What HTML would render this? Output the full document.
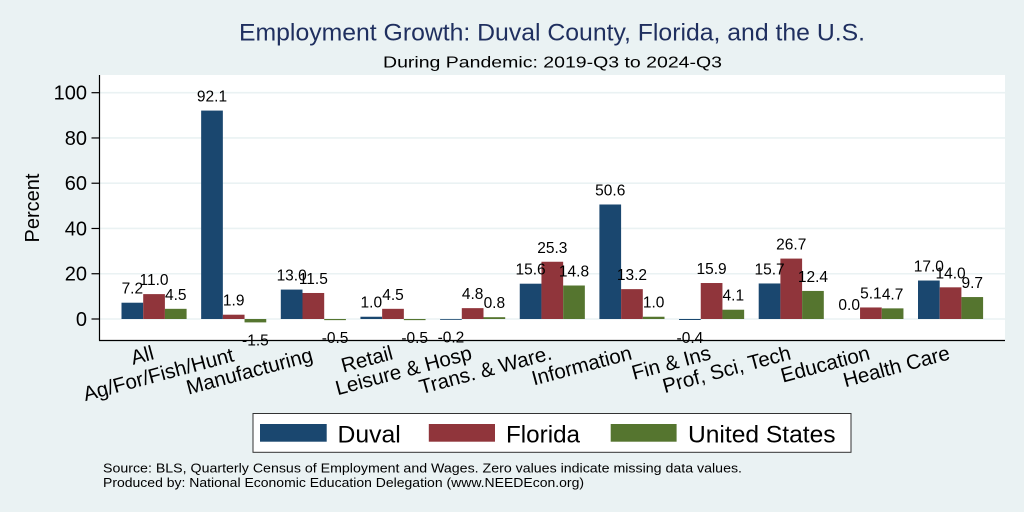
<!DOCTYPE html>
<html>
<head>
<meta charset="utf-8">
<style>
html,body{margin:0;padding:0;background:#eaf2f3;}
svg{display:block;font-family:"Liberation Sans",Arial,sans-serif;}
</style>
</head>
<body>
<svg width="1024" height="512" viewBox="0 0 1024 512" xmlns="http://www.w3.org/2000/svg">
<rect x="0" y="0" width="1024" height="512" fill="#eaf2f3"/>
<!-- titles -->
<text x="239" y="40.7" font-size="24" fill="#1f2f5f" textLength="626" lengthAdjust="spacingAndGlyphs">Employment Growth: Duval County, Florida, and the U.S.</text>
<text x="383" y="67.3" font-size="16" fill="#000" textLength="339" lengthAdjust="spacingAndGlyphs">During Pandemic: 2019-Q3 to 2024-Q3</text>
<!-- plot region -->
<rect x="99.5" y="75" width="905.5" height="265" fill="#ffffff"/>
<g stroke="#eaf2f3" stroke-width="1.6">
<line x1="100" y1="319" x2="1005" y2="319"/>
<line x1="100" y1="273.74" x2="1005" y2="273.74"/>
<line x1="100" y1="228.48" x2="1005" y2="228.48"/>
<line x1="100" y1="183.22" x2="1005" y2="183.22"/>
<line x1="100" y1="137.96" x2="1005" y2="137.96"/>
<line x1="100" y1="92.7" x2="1005" y2="92.7"/>
</g>
<!-- axes -->
<g stroke="#000" stroke-width="1.2">
<line x1="99.5" y1="75" x2="99.5" y2="340.5"/>
<line x1="99" y1="340.5" x2="1005" y2="340.5"/>
<line x1="91.5" y1="319" x2="99.5" y2="319"/>
<line x1="91.5" y1="273.74" x2="99.5" y2="273.74"/>
<line x1="91.5" y1="228.48" x2="99.5" y2="228.48"/>
<line x1="91.5" y1="183.22" x2="99.5" y2="183.22"/>
<line x1="91.5" y1="137.96" x2="99.5" y2="137.96"/>
<line x1="91.5" y1="92.7" x2="99.5" y2="92.7"/>
</g>
<g font-size="20" text-anchor="end" fill="#000">
<text x="87" y="326">0</text>
<text x="87" y="280.7">20</text>
<text x="87" y="235.5">40</text>
<text x="87" y="190.2">60</text>
<text x="87" y="145">80</text>
<text x="87" y="99.7">100</text>
</g>
<text transform="translate(39,208) rotate(-90)" font-size="20" text-anchor="middle" fill="#000">Percent</text>
<!-- bars -->
<g>
<!-- g0 -->
<rect x="121.5" y="302.71" width="21.7" height="16.29" fill="#1a476f"/>
<rect x="143.2" y="294.11" width="21.7" height="24.89" fill="#90353b"/>
<rect x="164.9" y="308.82" width="21.7" height="10.18" fill="#55752f"/>
<!-- g1 -->
<rect x="201.15" y="110.58" width="21.7" height="208.42" fill="#1a476f"/>
<rect x="222.85" y="314.70" width="21.7" height="4.30" fill="#90353b"/>
<rect x="244.55" y="319" width="21.7" height="3.39" fill="#55752f"/>
<!-- g2 -->
<rect x="280.8" y="289.58" width="21.7" height="29.42" fill="#1a476f"/>
<rect x="302.5" y="292.98" width="21.7" height="26.02" fill="#90353b"/>
<rect x="324.2" y="319" width="21.7" height="1.13" fill="#55752f"/>
<!-- g3 -->
<rect x="360.45" y="316.74" width="21.7" height="2.26" fill="#1a476f"/>
<rect x="382.15" y="308.82" width="21.7" height="10.18" fill="#90353b"/>
<rect x="403.85" y="319" width="21.7" height="1.13" fill="#55752f"/>
<!-- g4 -->
<rect x="440.1" y="319" width="21.7" height="0.8" fill="#1a476f"/>
<rect x="461.8" y="308.14" width="21.7" height="10.86" fill="#90353b"/>
<rect x="483.5" y="317.19" width="21.7" height="1.81" fill="#55752f"/>
<!-- g5 -->
<rect x="519.75" y="283.70" width="21.7" height="35.30" fill="#1a476f"/>
<rect x="541.45" y="261.75" width="21.7" height="57.25" fill="#90353b"/>
<rect x="563.15" y="285.51" width="21.7" height="33.49" fill="#55752f"/>
<!-- g6 -->
<rect x="599.4" y="204.49" width="21.7" height="114.51" fill="#1a476f"/>
<rect x="621.1" y="289.13" width="21.7" height="29.87" fill="#90353b"/>
<rect x="642.8" y="316.74" width="21.7" height="2.26" fill="#55752f"/>
<!-- g7 -->
<rect x="679.05" y="319" width="21.7" height="1.0" fill="#1a476f"/>
<rect x="700.75" y="283.02" width="21.7" height="35.98" fill="#90353b"/>
<rect x="722.45" y="309.72" width="21.7" height="9.28" fill="#55752f"/>
<!-- g8 -->
<rect x="758.7" y="283.47" width="21.7" height="35.53" fill="#1a476f"/>
<rect x="780.4" y="258.58" width="21.7" height="60.42" fill="#90353b"/>
<rect x="802.1" y="290.94" width="21.7" height="28.06" fill="#55752f"/>
<!-- g9 -->
<rect x="860.05" y="307.46" width="21.7" height="11.54" fill="#90353b"/>
<rect x="881.75" y="308.36" width="21.7" height="10.64" fill="#55752f"/>
<!-- g10 -->
<rect x="918.0" y="280.53" width="21.7" height="38.47" fill="#1a476f"/>
<rect x="939.7" y="287.32" width="21.7" height="31.68" fill="#90353b"/>
<rect x="961.4" y="297.05" width="21.7" height="21.95" fill="#55752f"/>
</g>
<!-- value labels -->
<g font-size="15.5" text-anchor="middle" fill="#000">
<text x="132.35" y="293.7">7.2</text>
<text x="154.05" y="285.1">11.0</text>
<text x="175.75" y="299.8">4.5</text>
<text x="212" y="101.6">92.1</text>
<text x="233.7" y="305.7">1.9</text>
<text x="255.4" y="345.4">-1.5</text>
<text x="291.65" y="280.6">13.0</text>
<text x="313.35" y="284.0">11.5</text>
<text x="335.05" y="343.1">-0.5</text>
<text x="371.3" y="307.7">1.0</text>
<text x="393" y="299.8">4.5</text>
<text x="414.7" y="343.1">-0.5</text>
<text x="450.95" y="342.45">-0.2</text>
<text x="472.65" y="299.1">4.8</text>
<text x="494.35" y="308.2">0.8</text>
<text x="530.6" y="274.7">15.6</text>
<text x="552.3" y="252.75">25.3</text>
<text x="574" y="276.5">14.8</text>
<text x="610.25" y="195.5">50.6</text>
<text x="631.95" y="280.1">13.2</text>
<text x="653.65" y="307.7">1.0</text>
<text x="689.9" y="342.9">-0.4</text>
<text x="711.6" y="274.0">15.9</text>
<text x="733.3" y="300.7">4.1</text>
<text x="769.55" y="274.5">15.7</text>
<text x="791.25" y="249.6">26.7</text>
<text x="812.95" y="281.9">12.4</text>
<text x="849.2" y="310">0.0</text>
<text x="870.9" y="298.5">5.1</text>
<text x="892.6" y="299.4">4.7</text>
<text x="928.85" y="271.5">17.0</text>
<text x="950.55" y="278.3">14.0</text>
<text x="972.25" y="288.05">9.7</text>
</g>
<!-- x labels -->
<g font-size="20.5" text-anchor="end" fill="#000">
<text transform="translate(155,359) rotate(-15)">All</text>
<text transform="translate(235,361) rotate(-15)">Ag/For/Fish/Hunt</text>
<text transform="translate(314,361) rotate(-15)">Manufacturing</text>
<text transform="translate(394,359) rotate(-15)">Retail</text>
<text transform="translate(473,359) rotate(-15)">Leisure &amp; Hosp</text>
<text transform="translate(553,359) rotate(-15)">Trans. &amp; Ware.</text>
<text transform="translate(633,359) rotate(-15)">Information</text>
<text transform="translate(712,359) rotate(-15)">Fin &amp; Ins</text>
<text transform="translate(792,359) rotate(-15)">Prof, Sci, Tech</text>
<text transform="translate(871,359) rotate(-15)">Education</text>
<text transform="translate(951,359) rotate(-15)">Health Care</text>
</g>
<!-- legend -->
<rect x="253" y="413.5" width="598" height="38.8" fill="#ffffff" stroke="#333" stroke-width="1"/>
<rect x="260" y="424" width="66.7" height="17.7" fill="#1a476f"/>
<rect x="428.8" y="424" width="66.2" height="17.7" fill="#90353b"/>
<rect x="610.7" y="424" width="65.9" height="17.7" fill="#55752f"/>
<g font-size="24" fill="#000">
<text x="337.5" y="442.3" textLength="63.2" lengthAdjust="spacingAndGlyphs">Duval</text>
<text x="506" y="442.3" textLength="74" lengthAdjust="spacingAndGlyphs">Florida</text>
<text x="688" y="442.3" textLength="147.6" lengthAdjust="spacingAndGlyphs">United States</text>
</g>
<!-- footnote -->
<g font-size="13" fill="#000">
<text x="103" y="472.7" textLength="639" lengthAdjust="spacingAndGlyphs">Source: BLS, Quarterly Census of Employment and Wages. Zero values indicate missing data values.</text>
<text x="103" y="487" textLength="481" lengthAdjust="spacingAndGlyphs">Produced by: National Economic Education Delegation (www.NEEDEcon.org)</text>
</g>
</svg>
</body>
</html>
